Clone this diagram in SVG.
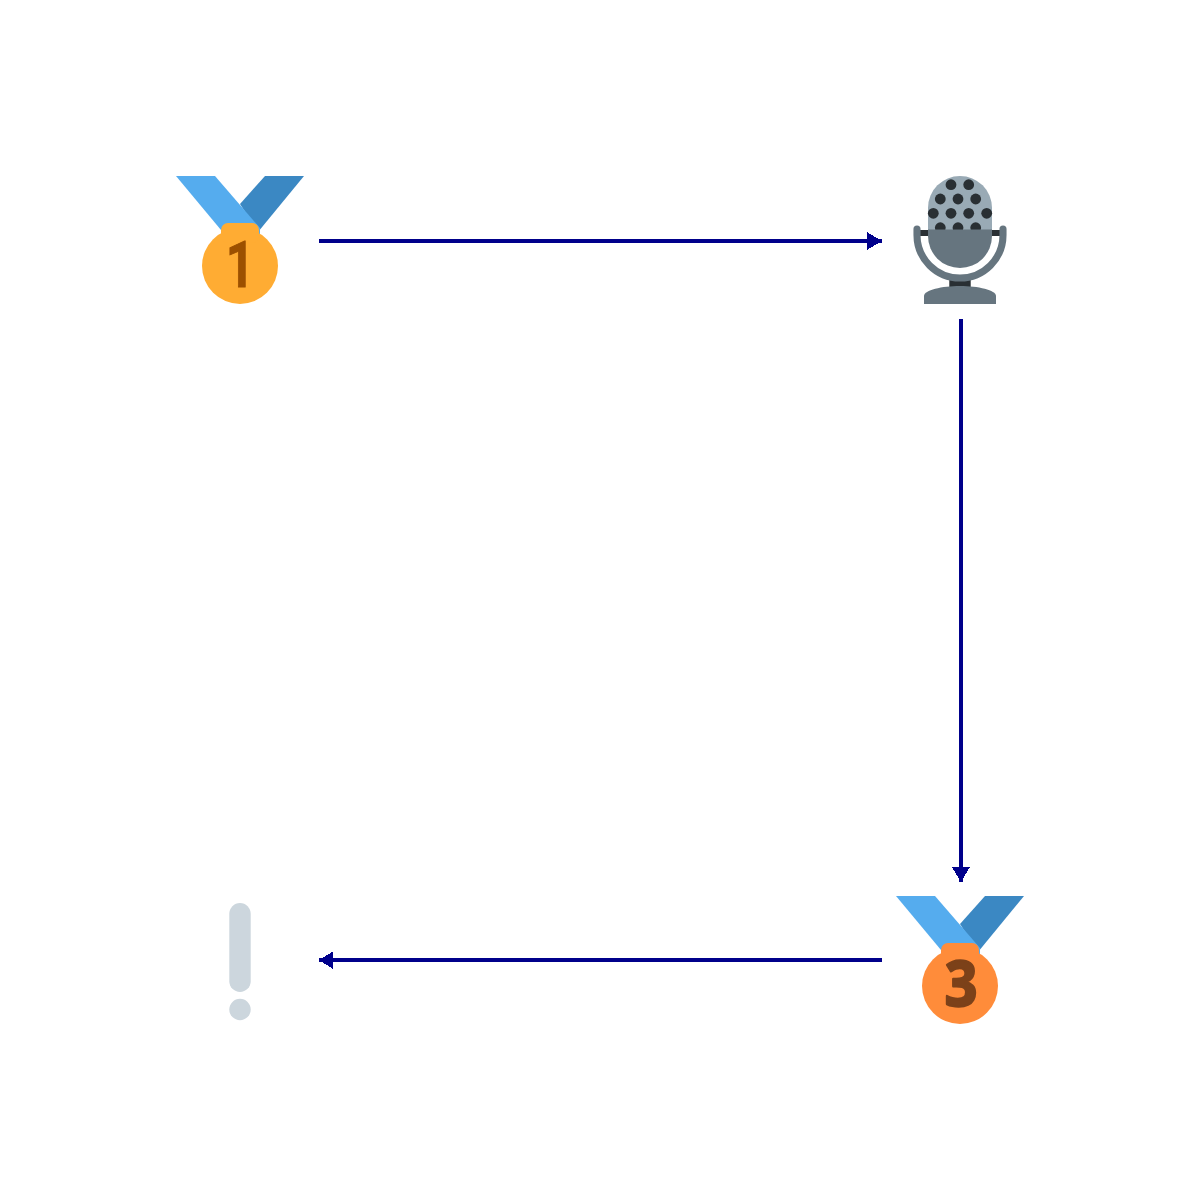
<svg xmlns="http://www.w3.org/2000/svg" width="1200" height="1200" viewBox="0 0 1200 1200">
<style>
.rl{fill:#55ACEE}.rd{fill:#3B88C3}
.num{font-weight:700;text-anchor:middle}
.edge{fill:none;stroke:#00008B;stroke-width:4;shape-rendering:crispEdges}
.head{fill:#00008B;shape-rendering:crispEdges}
</style>
<rect width="1200" height="1200" fill="#FFFFFF"/>
<g id="connectors">
<line class="edge" x1="319" y1="241" x2="882" y2="241"/><path class="head" d="M882 241L867 232V250z"/>
<line class="edge" x1="961" y1="319" x2="961" y2="882"/><path class="head" d="M961 882L952 867H970z"/>
<line class="edge" x1="882" y1="960" x2="319" y2="960"/><path class="head" d="M319 960L333 951.5V969z"/>
</g>
<g id="medal-first">
<path class="rd" d="M265 176H304L258 232L240 204z"/>
<path class="rl" d="M176 176H215L260 228V236H226z"/>
<circle cx="240" cy="266" r="38" fill="#FFAC33"/>
<rect x="221" y="223" width="38" height="20" rx="7" fill="#FFAC33"/>
<text class="num" transform="translate(240 287) scale(.78 1)" x="0" y="0" fill="#9C5000" stroke="#9C5000" stroke-width=".8" font-family="Roboto,'Liberation Sans',sans-serif" font-size="64">1</text>
</g>
<g id="microphone">
<path d="M928 230V208a32 32 0 0 1 64 0V230z" fill="#99AAB5"/>
<g fill="#292F33">
<circle cx="951" cy="184.7" r="5.4"/><circle cx="968.7" cy="184.7" r="5.4"/>
<circle cx="940.3" cy="199" r="5.4"/><circle cx="958" cy="199" r="5.4"/><circle cx="975.7" cy="199" r="5.4"/>
<circle cx="933.3" cy="213.3" r="5.4"/><circle cx="951" cy="213.3" r="5.4"/><circle cx="968.7" cy="213.3" r="5.4"/><circle cx="986.7" cy="213.3" r="5.4"/>
<circle cx="940.3" cy="227.7" r="5.4"/><circle cx="958" cy="227.7" r="5.4"/><circle cx="975.7" cy="227.7" r="5.4"/>
<rect x="920" y="230" width="8" height="6"/><rect x="992" y="230" width="8" height="6"/>
<rect x="949.3" y="280" width="21.4" height="8"/>
</g>
<path d="M928 229.5H992V236a32 32 0 0 1-64 0z" fill="#66757F"/>
<path d="M917 229V235a43 43 0 0 0 86 0V229" fill="none" stroke="#66757F" stroke-width="7.1" stroke-linecap="round"/>
<path d="M924 304V296C924 290 942 286 960 286S996 290 996 296V304z" fill="#66757F"/>
</g>
<g id="medal-third">
<path class="rd" d="M985 896H1024L978 952L960 924z"/>
<path class="rl" d="M896 896H935L980 948V956H946z"/>
<circle cx="960" cy="986" r="38" fill="#FF8C3A"/>
<rect x="941" y="943" width="38" height="20" rx="7" fill="#FF8C3A"/>
<text class="num" transform="translate(961 1006) scale(.92 1)" x="0" y="0" fill="#7C4119" stroke="#7C4119" stroke-width="2.4" stroke-linejoin="round" font-family="'Open Sans','Liberation Sans',sans-serif" font-size="62">3</text>
</g>
<g id="exclamation">
<rect x="229.3" y="903" width="21.4" height="89" rx="10.7" fill="#CCD6DD"/>
<circle cx="240" cy="1009.5" r="10.7" fill="#CCD6DD"/>
</g>
</svg>
